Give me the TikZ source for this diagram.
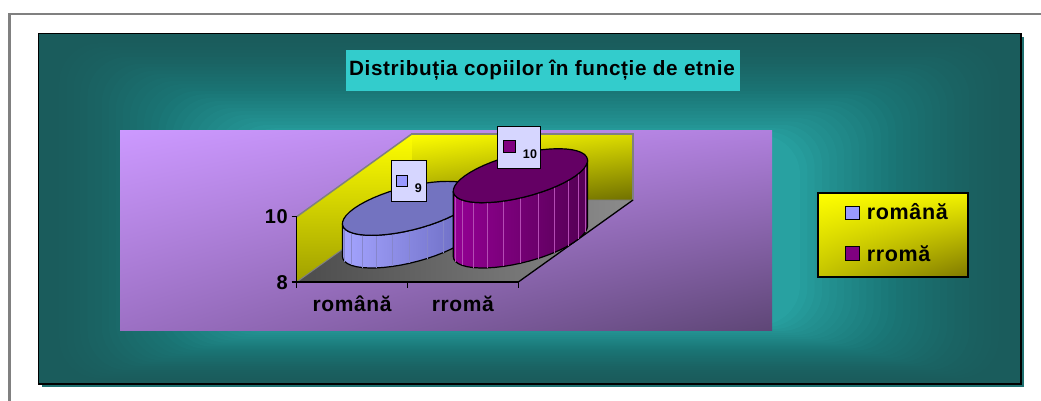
\documentclass[tikz,border=0pt]{standalone}
\usepackage{fontspec}
\setmainfont{Liberation Sans}[LetterSpace=3.0]
\usetikzlibrary{shadings}
\definecolor{tealD}{HTML}{1A5C5C}
\definecolor{tealB}{HTML}{2CAAAA}
\definecolor{tealS}{HTML}{1E7070}
\definecolor{titlecyan}{HTML}{33CCCC}
\definecolor{plotUL}{HTML}{CC99FF}
\definecolor{plotUR}{HTML}{B080DD}
\definecolor{plotLL}{HTML}{9C70C4}
\definecolor{plotLR}{HTML}{5E4676}
\definecolor{wallY}{HTML}{FFFF00}
\definecolor{wallYR}{HTML}{DADA00}
\definecolor{wallYL}{HTML}{A0A000}
\definecolor{wallYD}{HTML}{707000}
\definecolor{floorD}{HTML}{4C4C4C}
\definecolor{floorL}{HTML}{8C8C8C}
\definecolor{edgeG}{HTML}{808080}
\definecolor{romL}{HTML}{A4A4FF}
\definecolor{romD}{HTML}{6868BE}
\definecolor{romT}{HTML}{7373C0}
\definecolor{romF}{HTML}{9999FF}
\definecolor{rroL}{HTML}{940094}
\definecolor{rroD}{HTML}{540054}
\definecolor{rroT}{HTML}{640064}
\definecolor{rroF}{HTML}{800080}
\definecolor{lblfill}{HTML}{D6D6FF}
\definecolor{legUR}{HTML}{F2F200}
\definecolor{legLL}{HTML}{C4C400}
\definecolor{legLR}{HTML}{7E7800}
\newcommand\mycyl[7]{%
  \path[left color=#4, right color=#5, draw=black, line width=1.2pt, line join=round]
    plot[domain=214.45:394.45, samples=25] ({#1+55.4*cos(\x)+38*sin(\x)},{#2-#3-27*sin(\x)})
    -- plot[domain=394.45:214.45, samples=25] ({#1+55.4*cos(\x)+38*sin(\x)},{#2-27*sin(\x)}) -- cycle;
  \foreach \ang in {229.45,244.45,...,384.45}
    \draw[#7, line width=0.5pt] ({#1+55.4*cos(\ang)+38*sin(\ang)},{#2-#3-27*sin(\ang)}) -- ({#1+55.4*cos(\ang)+38*sin(\ang)},{#2-27*sin(\ang)});
  \draw[fill=#6, line width=1.2pt, line join=round]
    plot[domain=0:360, samples=49] ({#1+55.4*cos(\x)+38*sin(\x)},{#2-#3-27*sin(\x)}) -- cycle;
}
\tikzset{
  txt/.style={inner sep=0pt, font=\bfseries\fontsize{#1}{#1}\selectfont},
  lblbox/.style={draw=black, fill=lblfill, line width=0.8pt, inner sep=0pt},
  swatch/.style={draw=black, line width=0.8pt, inner sep=0pt},
}
\begin{document}
\begin{tikzpicture}[x=1pt, y=-1pt]
\useasboundingbox (0,0) rectangle (1041,400);
\clip (0,0) rectangle (1041,400);
\fill[white] (0,0) rectangle (1041,400);
% outer grey frame
\draw[edgeG, line width=2.7pt] (1060,14) -- (9.5,14) -- (9.5,420);
% teal panel with shadow
\fill[tealS] (41.5,36.5) rectangle (1024,387);
\begin{scope}
  \clip (38.5,33.5) rectangle (1021,384);
  \fill[tealD] (38.5,33.5) rectangle (1021,384);
  \foreach \i in {1,...,30} {
    \pgfmathsetmacro\fa{\i/30}
    \pgfmathsetmacro\fprev{0.92*((\i-1)/30)^1.4}
    \pgfmathsetmacro\fcur{0.92*(\i/30)^1.4}
    \pgfmathsetmacro\alp{(\fcur-\fprev)/(1-\fprev)}
    \fill[tealB, opacity=\alp, rounded corners=40pt]
      ({38+\fa*(250-38)},{33+\fa*(135-33)}) rectangle ({1021-\fa*(1021-800)},{384-\fa*(384-325)});
  }
\end{scope}
\draw[black, line width=1.5pt] (38.5,33.5) rectangle (1021,384);
% title
\node[fill=titlecyan, minimum width=394pt, minimum height=40.7pt, inner sep=0pt] (title) at (543,70.3) {};
\node[txt=20.7, anchor=base] (titletext) at (542,75.9) {Distribuția copiilor în funcție de etnie};
% plot area
\shade[upper left=plotUL, upper right=plotUR, lower left=plotLL, lower right=plotLR] (120,130) rectangle (772,330.7);
% back wall
\shade[upper left=wallY, upper right=wallYR, lower left=wallYL, lower right=wallYD] (411.7,134) rectangle (633,200);
\draw[edgeG, line width=1.5pt] (411.7,200) -- (411.7,134) -- (633,134) -- (633,200);
% left wall
\begin{scope}
  \clip (296.7,216.7) -- (411.7,134) -- (411.7,200) -- (296.7,282) -- cycle;
  \shade[top color=wallY, bottom color=wallYL] (296.7,134) rectangle (411.7,282);
\end{scope}
\draw[edgeG, line width=1.5pt] (296.7,216.7) -- (411.7,134);
% floor
\shade[left color=floorD, right color=floorL] (296.7,282) -- (518.3,282) -- (633,200) -- (411.7,200) -- cycle;
\draw[edgeG, line width=1pt] (296.7,282) -- (411.7,200) -- (633,200);
\draw[black, line width=1.3pt] (518.3,282) -- (633,200);
% axes
\draw[black, line width=1.3pt] (296.7,216.7) -- (296.7,282) -- (518.3,282);
\draw[black, line width=1.3pt] (291.5,216.7) -- (296.7,216.7);
\draw[black, line width=1.3pt] (291.5,282) -- (296.7,282);
\foreach \tx in {296.7,407.5,518.3}
  \draw[black, line width=1.3pt] (\tx,282) -- (\tx,287.5);
\node[txt=20, anchor=base east] (y10) at (288,223.7) {10};
\node[txt=20, anchor=base east] (y8) at (288,289) {8};
\node[txt=21, anchor=base] (xrom) at (352.1,311.7) {română};
\node[txt=21, anchor=base] (xrro) at (462.9,311.7) {rromă};
% cylinders
\mycyl{409.6}{241}{32.65}{romL}{romD}{romT}{romD!80!white}
\mycyl{520.4}{241}{65.3}{rroL}{rroD}{rroT}{rroL!70!white}
% data labels
\node[lblbox, minimum width=35.7pt, minimum height=41.7pt] (lbl9) at (408.85,180.85) {};
\node[swatch, fill=romF, minimum width=11pt, minimum height=11pt] (sw9) at (401.5,180.5) {};
\node[txt=12.5, anchor=base] (v9) at (418.3,192.3) {9};
\node[lblbox, minimum width=42.7pt, minimum height=42.3pt] (lbl10) at (518.65,147.15) {};
\node[swatch, fill=rroF, minimum width=12.5pt, minimum height=12pt] (sw10) at (509.5,146.8) {};
\node[txt=12.5, anchor=base] (v10) at (530,158.3) {10};
% legend
\shade[upper left=wallY, upper right=legUR, lower left=legLL, lower right=legLR] (818,193) rectangle (968,277);
\node[draw=black, line width=1.5pt, minimum width=150pt, minimum height=84pt, inner sep=0pt] (legend) at (893,235) {};
\node[swatch, fill=romF, minimum width=13.6pt, minimum height=12.6pt] (legsw1) at (852.5,213) {};
\node[swatch, fill=rroF, minimum width=13.6pt, minimum height=13.3pt] (legsw2) at (852.5,253.3) {};
\node[txt=21.5, anchor=base west] (leg1) at (866.7,219.3) {română};
\node[txt=21.5, anchor=base west] (leg2) at (866.7,261) {rromă};
\end{tikzpicture}
\end{document}
